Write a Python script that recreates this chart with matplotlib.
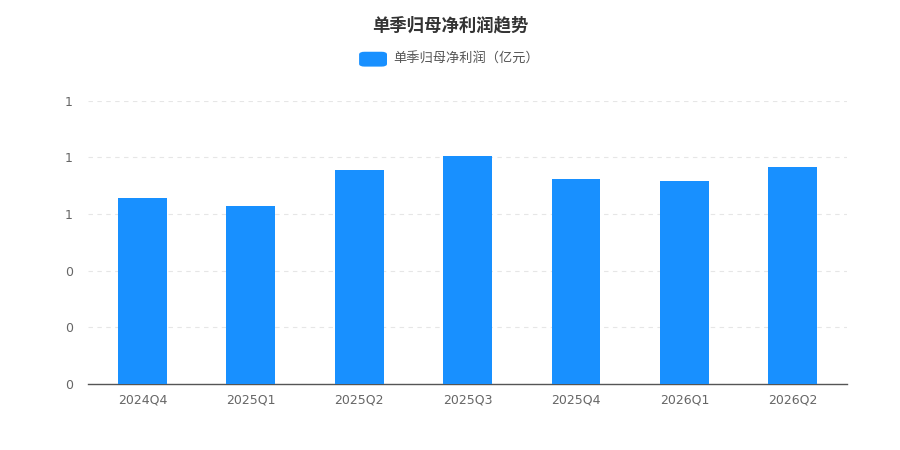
import numpy as np
import matplotlib
matplotlib.use('Agg')
import matplotlib.pyplot as plt
from matplotlib.ticker import FuncFormatter
from matplotlib.patches import FancyBboxPatch

plt.rcParams['font.family'] = ['Noto Sans CJK SC', 'DejaVu Sans']

quarters = ['2024Q4', '2025Q1', '2025Q2', '2025Q3', '2025Q4', '2026Q1', '2026Q2']
profit = [0.657, 0.628, 0.756, 0.806, 0.724, 0.716, 0.767]
yticks = [0, 0.2, 0.4, 0.6, 0.8, 1.0]

title = '单季归母净利润趋势'
series_name = '单季归母净利润（亿元）'
blue = '#1890ff'

fig = plt.figure(figsize=(9, 4.5), dpi=100)
ax = fig.add_axes([0.098, 0.147, 0.843, 0.629])

x = np.arange(len(quarters))
ax.bar(x, profit, width=0.45, color=blue, zorder=3)

ax.set_xlim(-0.5, len(quarters) - 0.5)
ax.set_ylim(0, 1.0)
ax.set_yticks(yticks)
ax.yaxis.set_major_formatter(FuncFormatter(lambda v, p: '%d' % round(v)))
ax.set_xticks(x)
ax.set_xticklabels(quarters)
ax.tick_params(axis='both', length=0, labelsize=9, colors='#666666', pad=7)
ax.tick_params(axis='y', pad=11)
for lab in ax.get_xticklabels() + ax.get_yticklabels():
    lab.set_family('DejaVu Sans')

ax.grid(axis='y', color='#e6e6e6', linestyle=(0, (4, 4)), linewidth=0.8, zorder=0)
for s in ['top', 'right', 'left']:
    ax.spines[s].set_visible(False)
ax.spines['bottom'].set_color('#555555')
ax.spines['bottom'].set_linewidth(1.0)

fig.text(0.5, 0.944, title, ha='center', va='center', fontsize=12.5, fontweight='bold', color='#333333')

# legend
box = FancyBboxPatch((0.399, 0.852), 0.031, 0.033, boxstyle='round,pad=0,rounding_size=0.006',
                     transform=fig.transFigure, facecolor=blue, edgecolor='none')
fig.patches.append(box)
fig.text(0.437, 0.868, series_name, ha='left', va='center', fontsize=9.5, color='#555555')

fig.savefig('out.png', dpi=100)
